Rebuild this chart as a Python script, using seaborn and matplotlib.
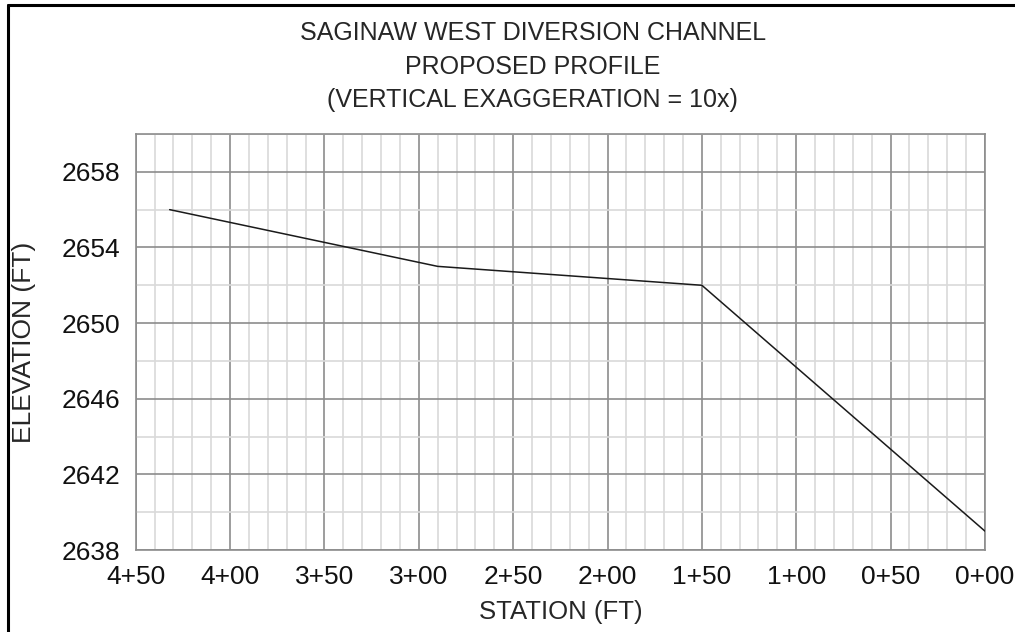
import numpy as np
import pandas as pd
import matplotlib
matplotlib.use("Agg")
import matplotlib.pyplot as plt
from matplotlib.ticker import MultipleLocator, FixedLocator, FuncFormatter
from matplotlib.lines import Line2D
import seaborn as sns

# profile points (station in ft, elevation in ft)
station = [432, 290, 150, 0]
elevation = [2656, 2653, 2652, 2639]

# axis ticks
station_ticks = [450, 400, 350, 300, 250, 200, 150, 100, 50, 0]
elev_ticks = [2638, 2642, 2646, 2650, 2654, 2658]

title_lines = ["SAGINAW WEST DIVERSION CHANNEL",
               "PROPOSED PROFILE",
               "(VERTICAL EXAGGERATION = 10x)"]

df = pd.DataFrame({"station": station, "elevation": elevation})

sns.set_style("white")
plt.rcParams["font.family"] = ["Liberation Sans", "DejaVu Sans"]

fig = plt.figure(figsize=(10.15, 6.32), dpi=100)
ax = fig.add_axes([0.1337, 0.1297, 0.8367, 0.6583])

sns.lineplot(x="station", y="elevation", data=df, color="#1a1a1a",
             linewidth=1.1, sort=False, ax=ax, zorder=5)

ax.set_xlim(450, 0)
ax.set_ylim(2638, 2660)
ax.xaxis.set_major_locator(FixedLocator(station_ticks))
ax.xaxis.set_minor_locator(MultipleLocator(10))
ax.yaxis.set_major_locator(FixedLocator(elev_ticks))
ax.yaxis.set_minor_locator(MultipleLocator(2))
ax.xaxis.set_major_formatter(FuncFormatter(lambda v, p: "%d+%02d" % (int(v) // 100, int(v) % 100)))

ax.grid(which="minor", color="#d9d9d9", linewidth=1.2)
ax.grid(which="major", color="#8c8c8c", linewidth=1.2)
ax.set_axisbelow(True)
for s in ax.spines.values():
    s.set_color("#8c8c8c")
    s.set_linewidth(1.2)

ax.tick_params(which="both", length=0, labelsize=19, pad=11, colors="#111111")
ax.set_xlabel("STATION (FT)", fontsize=18.5)
ax.set_ylabel("ELEVATION (FT)", fontsize=19)
ax.xaxis.set_label_coords(0.5, -0.12)
ax.yaxis.set_label_coords(-0.117, 0.5)

fig.text(0.525, 0.966, "\n".join(title_lines), ha="center", va="top",
         fontsize=18, linespacing=1.5)

# drawing frame (top and left edges)
fig.add_artist(Line2D([0.008, 1.0], [0.992, 0.992], color="black", linewidth=2.2,
                      transform=fig.transFigure))
fig.add_artist(Line2D([0.008, 0.008], [0.0, 0.992], color="black", linewidth=2.2,
                      transform=fig.transFigure))

fig.savefig("out.png", dpi=100)
